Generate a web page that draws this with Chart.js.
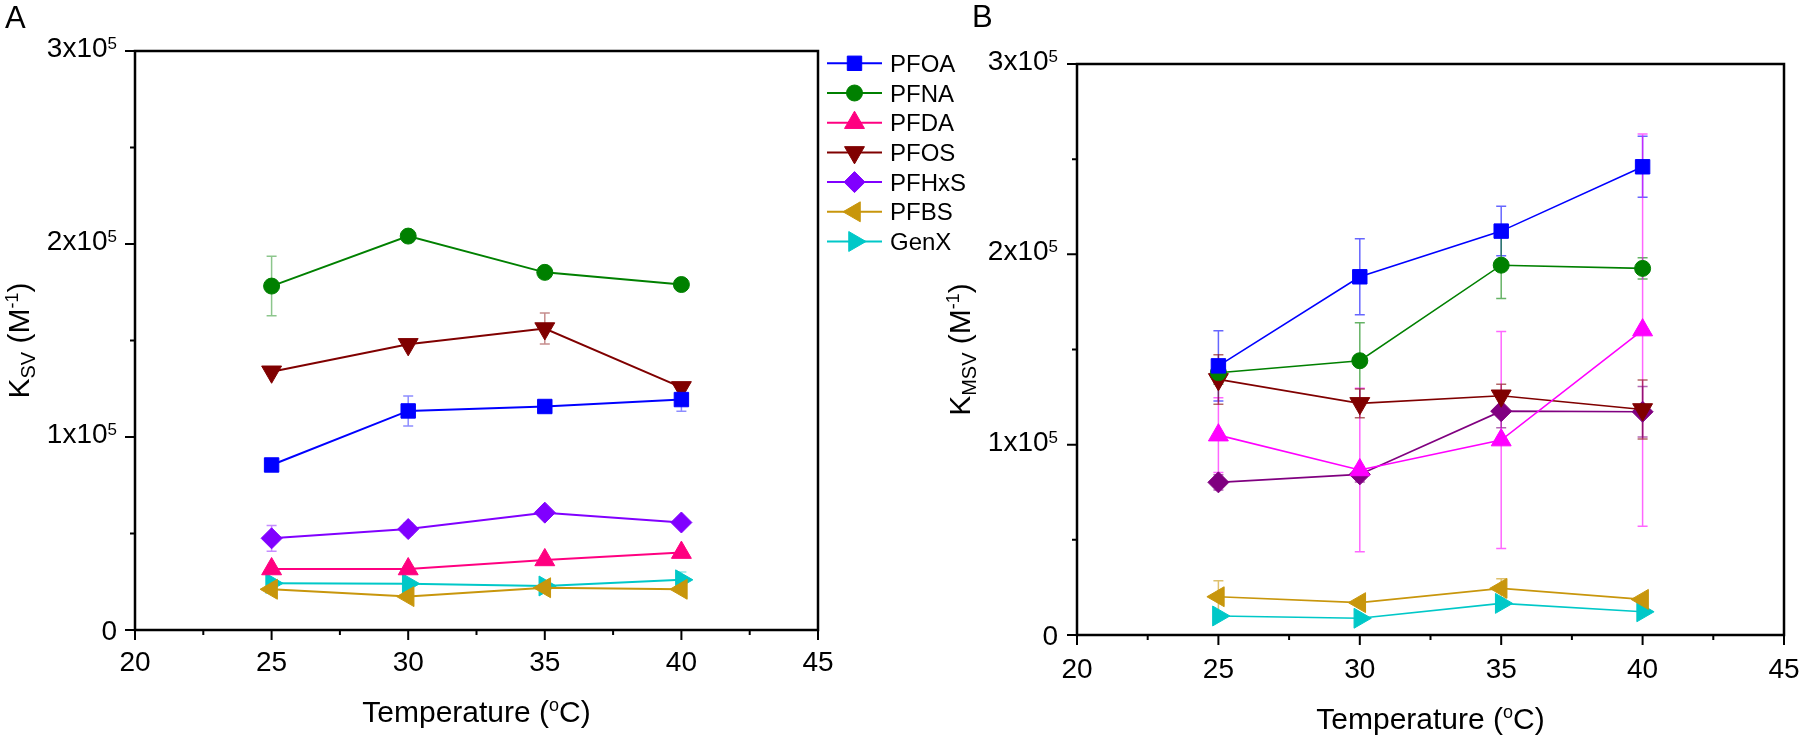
<!DOCTYPE html>
<html>
<head>
<meta charset="utf-8">
<script src="https://cdn.jsdelivr.net/npm/chart.js@4.4.0/dist/chart.umd.min.js"></script>
<style>
  body { margin: 0; background: #fff; width: 1800px; height: 736px; overflow: hidden; position: relative; }
  canvas { position: absolute; top: 0; }
  #chartA { left: 0; }
  #chartB { left: 930px; }
</style>
</head>
<body>
<canvas id="chartA" width="975" height="736"></canvas>
<canvas id="chartB" width="870" height="736"></canvas>
<script>
// --- data ---
const temps = [25, 30, 35, 40];
const seriesNames = ['PFOA', 'PFNA', 'PFDA', 'PFOS', 'PFHxS', 'PFBS', 'GenX'];

// Panel A: Ksv (M^-1)
const ksvPFOA  = [85500, 113500, 115800, 119400];
const ksvPFNA  = [178200, 204100, 185300, 179000];
const ksvPFDA  = [31600, 31600, 36300, 40100];
const ksvPFOS  = [133800, 148000, 156200, 125700];
const ksvPFHxS = [47500, 52300, 60800, 55700];
const ksvPFBS  = [21100, 17300, 21900, 21100];
const ksvGenX  = [24200, 24000, 22800, 26000];

const ksvErrPFOA  = [null, 7800, 2000, 6000];
const ksvErrPFNA  = [15400, null, null, null];
const ksvErrPFDA  = [null, null, null, null];
const ksvErrPFOS  = [null, null, 8000, null];
const ksvErrPFHxS = [6700, 3000, null, null];
const ksvErrPFBS  = [null, null, null, null];
const ksvErrGenX  = [null, null, null, 4000];

// Panel B: KMSV (M^-1)
const kmsvPFOA  = [141400, 188200, 212200, 246000];
const kmsvPFNA  = [137800, 144100, 194300, 192600];
const kmsvPFDA  = [105000, 86700, 102400, 160200];
const kmsvPFOS  = [134300, 121700, 125700, 118500];
const kmsvPFHxS = [80200, 84400, 117600, 117300];
const kmsvPFBS  = [20100, 17000, 24500, 18700];
const kmsvGenX  = [10000, 8800, 16600, 12200];

const kmsvErrPFOA  = [18500, 20000, 13000, 16000];
const kmsvErrPFNA  = [6000, 20000, 17500, 5600];
const kmsvErrPFDA  = [19600, 43000, 57000, 103000];
const kmsvErrPFOS  = [13000, 7500, 6000, 15500];
const kmsvErrPFHxS = [4000, 4000, 8700, 13300];
const kmsvErrPFBS  = [8400, null, 5000, null];
const kmsvErrGenX  = [null, null, null, null];

// axes
const xMin = 20, xMax = 45;
const xTicks = [20, 25, 30, 35, 40, 45];
const xMinorTicks = [22.5, 27.5, 32.5, 37.5, 42.5];
const yMin = 0, yMax = 300000;
const yTicks = [0, 100000, 200000, 300000];
const yTickMain = ['0', '1x10', '2x10', '3x10'];
const yTickExp = ['', '5', '5', '5'];
const yMinorTicks = [50000, 150000, 250000];

// --- styles ---
const FONT = '"Liberation Sans", Arial, sans-serif';
const colorsA = ['#0000ff', '#008000', '#ff0080', '#800000', '#8000ff', '#c8960c', '#00c8c8'];
const colorsB = ['#0000ff', '#008000', '#ff00ff', '#800000', '#800080', '#c8960c', '#00c8c8'];
const markers = [
    { pointStyle: 'rect', rotation: 0, radius: 10.2 },
    { pointStyle: 'circle', rotation: 0, radius: 8 },
    { pointStyle: 'triangle', rotation: 0, radius: 11.5 },
    { pointStyle: 'triangle', rotation: 180, radius: 11.5 },
    { pointStyle: 'rectRot', rotation: 0, radius: 10.5 },
    { pointStyle: 'triangle', rotation: -90, radius: 11.5 },
    { pointStyle: 'triangle', rotation: 90, radius: 11.5 }
];

function hexAlpha(hex, a) {
    const n = parseInt(hex.slice(1), 16);
    return `rgba(${(n >> 16) & 255}, ${(n >> 8) & 255}, ${n & 255}, ${a})`;
}

// text with sub/superscript pieces: [text, size, dy]
function drawRich(ctx, parts, x, y, align) {
    let total = 0;
    parts.forEach(p => { ctx.font = `${p[1]}px ${FONT}`; total += ctx.measureText(p[0]).width; });
    let cx = align === 'center' ? x - total / 2 : (align === 'right' ? x - total : x);
    ctx.textAlign = 'left';
    ctx.textBaseline = 'alphabetic';
    parts.forEach(p => {
        ctx.font = `${p[1]}px ${FONT}`;
        ctx.fillText(p[0], cx, y + p[2]);
        cx += ctx.measureText(p[0]).width;
    });
}

function fallbackPoint(ctx, m, x, y) {
    ctx.beginPath();
    ctx.arc(x, y, m.radius, 0, Math.PI * 2);
    ctx.fill();
}

// --- Origin style axes, error bars, legend ---
function originAxes(cfg) {
    return {
        id: 'originAxes',
        beforeDatasetsDraw(chart) {
            const ctx = chart.ctx;
            const xs = chart.scales.x, ys = chart.scales.y;
            ctx.save();
            ctx.lineWidth = 1.5;
            cfg.errors.forEach((errs, i) => {
                ctx.strokeStyle = hexAlpha(cfg.colors[i], cfg.errAlpha);
                errs.forEach((e, j) => {
                    if (!e) return;
                    const v = cfg.values[i][j];
                    const x = xs.getPixelForValue(temps[j]);
                    const yt = ys.getPixelForValue(v + e);
                    const yb = ys.getPixelForValue(v - e);
                    ctx.beginPath();
                    ctx.moveTo(x, yt); ctx.lineTo(x, yb);
                    ctx.moveTo(x - 5, yt); ctx.lineTo(x + 5, yt);
                    ctx.moveTo(x - 5, yb); ctx.lineTo(x + 5, yb);
                    ctx.stroke();
                });
            });
            ctx.restore();
        },
        afterDraw(chart) {
            const ctx = chart.ctx;
            const a = chart.chartArea;
            const xs = chart.scales.x, ys = chart.scales.y;
            ctx.save();
            ctx.strokeStyle = '#000';
            ctx.fillStyle = '#000';

            // frame
            ctx.lineWidth = 2.5;
            ctx.strokeRect(a.left, a.top, a.right - a.left, a.bottom - a.top);

            // ticks (outward)
            ctx.lineWidth = 2;
            ctx.beginPath();
            xTicks.forEach(t => {
                const x = xs.getPixelForValue(t);
                ctx.moveTo(x, a.bottom); ctx.lineTo(x, a.bottom + 10);
            });
            xMinorTicks.forEach(t => {
                const x = xs.getPixelForValue(t);
                ctx.moveTo(x, a.bottom); ctx.lineTo(x, a.bottom + 5);
            });
            yTicks.forEach(t => {
                const y = ys.getPixelForValue(t);
                ctx.moveTo(a.left, y); ctx.lineTo(a.left - 10, y);
            });
            yMinorTicks.forEach(t => {
                const y = ys.getPixelForValue(t);
                ctx.moveTo(a.left, y); ctx.lineTo(a.left - 5, y);
            });
            ctx.stroke();

            // tick labels
            ctx.font = `28px ${FONT}`;
            ctx.textAlign = 'center';
            ctx.textBaseline = 'alphabetic';
            xTicks.forEach(t => {
                ctx.fillText(String(t), xs.getPixelForValue(t), a.bottom + cfg.xLabelDy);
            });
            yTicks.forEach((t, i) => {
                const y = ys.getPixelForValue(t);
                const right = a.left - cfg.yLabelGap;
                if (yTickExp[i]) {
                    drawRich(ctx, [[yTickMain[i], 28, 0], [yTickExp[i], 17, -8]], right, y + 6, 'right');
                } else {
                    drawRich(ctx, [[yTickMain[i], 28, 0]], right, y + 10, 'right');
                }
            });

            // axis titles
            const cx = (a.left + a.right) / 2;
            drawRich(ctx, [['Temperature (', 30, 0], ['o', 18, -11], ['C)', 30, 0]], cx, cfg.xTitleY, 'center');

            ctx.save();
            ctx.translate(cfg.yTitleX, (a.top + a.bottom) / 2);
            ctx.rotate(-Math.PI / 2);
            drawRich(ctx, [['K', 30, 0], [cfg.ySub, 20, 6], [' (M', 30, 0], ['-1', 18, -11], [')', 30, 0]], 0, 10, 'center');
            ctx.restore();

            // panel letter
            ctx.font = `31px ${FONT}`;
            ctx.textAlign = 'left';
            ctx.fillText(cfg.letter, cfg.letterX, cfg.letterY);

            // legend
            if (cfg.legend) {
                const L = cfg.legend;
                const drawPoint = Chart.helpers && Chart.helpers.drawPoint;
                seriesNames.forEach((name, i) => {
                    const y = L.y0 + L.dy * i;
                    const col = cfg.colors[i];
                    ctx.strokeStyle = col;
                    ctx.fillStyle = col;
                    ctx.lineWidth = 2;
                    ctx.beginPath();
                    ctx.moveTo(L.x0, y); ctx.lineTo(L.x1, y);
                    ctx.stroke();
                    const m = markers[i];
                    const mx = (L.x0 + L.x1) / 2;
                    ctx.lineWidth = 1;
                    if (drawPoint) {
                        drawPoint(ctx, { pointStyle: m.pointStyle, rotation: m.rotation, radius: m.radius, borderWidth: 1 }, mx, y);
                    } else {
                        fallbackPoint(ctx, m, mx, y);
                    }
                    ctx.fillStyle = '#000';
                    ctx.font = `24px ${FONT}`;
                    ctx.textAlign = 'left';
                    ctx.fillText(name, L.textX, y + 8.5);
                });
            }
            ctx.restore();
        }
    };
}

function makeChart(id, values, errors, colors, lineWidth, cfg) {
    const ctx = document.getElementById(id).getContext('2d');
    cfg.values = values;
    cfg.errors = errors;
    cfg.colors = colors;
    return new Chart(ctx, {
        type: 'line',
        data: {
            datasets: values.map((vals, i) => ({
                label: seriesNames[i],
                data: temps.map((t, j) => ({ x: t, y: vals[j] })),
                borderColor: colors[i],
                backgroundColor: colors[i],
                pointBackgroundColor: colors[i],
                pointBorderColor: colors[i],
                borderWidth: lineWidth,
                pointBorderWidth: 1,
                pointStyle: markers[i].pointStyle,
                rotation: markers[i].rotation,
                pointRadius: markers[i].radius,
                pointHoverRadius: markers[i].radius,
                tension: 0,
                fill: false,
                clip: false
            }))
        },
        options: {
            responsive: false,
            animation: false,
            events: [],
            layout: { padding: cfg.padding },
            plugins: {
                legend: { display: false },
                tooltip: { enabled: false }
            },
            scales: {
                x: {
                    type: 'linear',
                    min: xMin, max: xMax,
                    ticks: { display: false },
                    grid: { display: false },
                    border: { display: false },
                    afterFit: s => { s.height = cfg.xAxisHeight; }
                },
                y: {
                    type: 'linear',
                    min: yMin, max: yMax,
                    ticks: { display: false },
                    grid: { display: false },
                    border: { display: false },
                    afterFit: s => { s.width = cfg.yAxisWidth; }
                }
            }
        },
        plugins: [originAxes(cfg)]
    });
}

makeChart('chartA',
    [ksvPFOA, ksvPFNA, ksvPFDA, ksvPFOS, ksvPFHxS, ksvPFBS, ksvGenX],
    [ksvErrPFOA, ksvErrPFNA, ksvErrPFDA, ksvErrPFOS, ksvErrPFHxS, ksvErrPFBS, ksvErrGenX],
    colorsA, 2, {
        padding: { left: 0, top: 51, right: 157, bottom: 0 },
        yAxisWidth: 135, xAxisHeight: 106,
        xLabelDy: 41, yLabelGap: 18, xTitleY: 722, yTitleX: 19,
        ySub: 'SV', letter: 'A', letterX: 5, letterY: 28, errAlpha: 0.45,
        legend: { x0: 827, x1: 882, textX: 890, y0: 63.3, dy: 29.7 }
    });

makeChart('chartB',
    [kmsvPFOA, kmsvPFNA, kmsvPFDA, kmsvPFOS, kmsvPFHxS, kmsvPFBS, kmsvGenX],
    [kmsvErrPFOA, kmsvErrPFNA, kmsvErrPFDA, kmsvErrPFOS, kmsvErrPFHxS, kmsvErrPFBS, kmsvErrGenX],
    colorsB, 1.6, {
        padding: { left: 0, top: 64, right: 16, bottom: 0 },
        yAxisWidth: 147, xAxisHeight: 101,
        xLabelDy: 43, yLabelGap: 19, xTitleY: 729, yTitleX: 30,
        ySub: 'MSV', letter: 'B', letterX: 42, letterY: 27, errAlpha: 0.6,
        legend: null
    });
</script>
</body>
</html>
